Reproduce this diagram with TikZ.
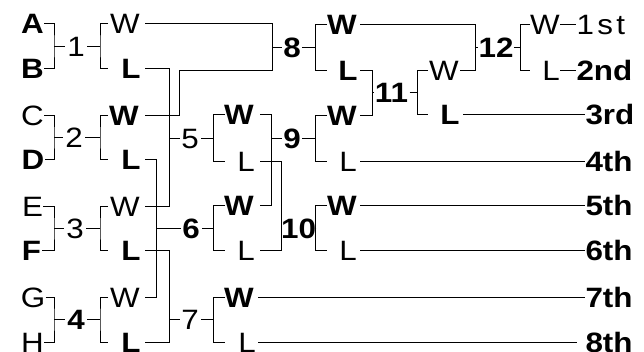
\documentclass[tikz,border=0pt]{standalone}
\usepackage{fontspec}
\setmainfont[FakeStretch=1.12]{Liberation Sans}
\begin{document}
\begin{tikzpicture}[x=1pt,y=-1pt,line width=1pt,
  lb/.style={inner sep=0pt,text height=20pt,text depth=0pt,font=\fontsize{28}{28}\selectfont},
  bl/.style={lb,font=\fontsize{28}{28}\selectfont\bfseries},
  wire/.style={line width=1pt}]
\useasboundingbox (0,0) rectangle (644,352);
\clip (0,0) rectangle (644,352);
% ---- entrants ----
\node[bl] (A) at (32.5,24) {A};
\node[bl] (B) at (32.5,69) {B};
\node[lb] (C) at (32.5,116) {C};
\node[bl] (D) at (33,160) {D};
\node[lb] (E) at (32.5,207) {E};
\node[bl] (F) at (31.5,251) {F};
\node[lb] (G) at (33,297) {G};
\node[lb] (H) at (32.5,342) {H};
% ---- round 1 matches ----
\node[lb] (m1) at (76,46.5) {1};
\node[lb] (m2) at (74,138) {2};
\node[lb] (m3) at (75,229) {3};
\node[bl] (m4) at (76,319.5) {4};
\foreach \a/\b/\m/\y in {A/B/m1/46.5,C/D/m2/138,E/F/m3/229,G/H/m4/319.5}{
  \coordinate (j\m) at (54,\y);
  \draw[wire] (\a.east) -| (j\m) |- (\b.east);
  \draw[wire] (j\m) -- ([xshift=-2pt]\m.west);
  \coordinate (k\m) at (100,\y);
  \draw[wire] ([xshift=2pt]\m.east) -- (k\m);
}
\draw[wire] (108,24) -| (km1) |- (108,69);
\draw[wire] (108,116) -| (km2) |- (108,160);
\draw[wire] (108,207) -| (km3) |- (108,251);
\draw[wire] (108,297) -| (km4) |- (108,342);
\node[lb] (W1) at (125,24) {W};
\node[bl] (L1) at (131,69) {L};
\node[bl] (W2) at (124,116) {W};
\node[bl] (L2) at (131,160) {L};
\node[lb] (W3) at (125,207) {W};
\node[bl] (L3) at (131,251) {L};
\node[lb] (W4) at (125,297) {W};
\node[bl] (L4) at (131,342) {L};
% ---- round 2 matches ----
\node[lb] (m5) at (190,139) {5};
\node[bl] (m6) at (191,229) {6};
\node[lb] (m7) at (190,319) {7};
\node[bl] (m8) at (292,48) {8};
% 8 : W1 vs W2
\draw[wire] (145,24) -- (272,24) -- (272,71) -- (179,71) -- (179,116) -- (145,116);
\draw[wire] (272,48) -- ([xshift=-1pt]m8.west);
% 5 : L1 vs W3
\draw[wire] (145,69) -- (169,69) -- (169,207) -- (145,207);
\draw[wire] (169,139) -- ([xshift=-1pt]m5.west);
% 6 : L2 vs W4
\draw[wire] (145,160) -- (156,160) -- (156,297) -- (145,297);
\draw[wire] (156,229) -- ([xshift=-1pt]m6.west);
% 7 : L3 vs L4
\draw[wire] (145,251) -- (169,251) -- (169,342) -- (145,342);
\draw[wire] (169,319) -- ([xshift=-1pt]m7.west);
% brackets of 5,6,7
\draw[wire] (225,115) -| (213,162) -- (225,162);
\draw[wire] (225,206) -| (213,251) -- (225,251);
\draw[wire] (225,297) -| (213,342) -- (225,342);
\draw[wire] (213,139) -- ([xshift=2pt]m5.east);
\draw[wire] (213,229) -- ([xshift=2pt]m6.east);
\draw[wire] (213,319) -- ([xshift=2pt]m7.east);
\node[bl] (W5) at (239,115) {W};
\node[lb] (L5) at (246,162) {L};
\node[bl] (W6) at (239,206) {W};
\node[lb] (L6) at (246,251) {L};
\node[bl] (W7) at (239,297) {W};
\node[lb] (L7) at (247,342) {L};
% ---- round 3 ----
\node[bl] (m9) at (292,139) {9};
\node[bl] (m10) at (298.5,229) {10};
% 9 : W5 vs W6
\draw[wire] (260,115) -- (271,115) -- (271,206) -- (260,206);
\draw[wire] (271,139) -- ([xshift=-1pt]m9.west);
% 10 : L5 vs L6
\draw[wire] (260,162) -- (281,162) -- (281,251) -- (260,251);
\draw[wire] (281,229) -- (m10.west);
% brackets of 8,9,10
\draw[wire] ([xshift=1pt]m8.east) -- (315,48);
\draw[wire] ([xshift=1pt]m9.east) -- (315,139);
\draw[wire] (m10.east) -- (315,229);
\draw[wire] (327,25) -| (315,71) -- (327,71);
\draw[wire] (327,116) -| (315,162) -- (327,162);
\draw[wire] (327,206) -| (315,251) -- (327,251);
\node[bl] (W8) at (342,25) {W};
\node[bl] (L8) at (348,71) {L};
\node[bl] (W9) at (342,116) {W};
\node[lb] (L9) at (348,162) {L};
\node[bl] (W10) at (342,206) {W};
\node[lb] (L10) at (348,251) {L};
% ---- 11 and 12 ----
\node[bl] (m11) at (391.5,93) {11};
\node[bl] (m12) at (496,48) {12};
% 11 : L8 vs W9
\draw[wire] (360,71) -- (372,71) -- (372,116) -- (360,116);
\draw[wire] (372,93) -- (m11.west);
\draw[wire] ([xshift=1pt]m11.east) -- (417,93);
\draw[wire] (428,71) -| (417,115) -- (428,115);
\node[lb] (W11) at (444,71) {W};
\node[bl] (L11) at (450,115) {L};
% 12 : W8 vs W11
\draw[wire] (360,25) -- (475,25) -- (475,71) -- (460,71);
\draw[wire] (475,48) -- (m12.west);
\draw[wire] (m12.east) -- (520,48);
\draw[wire] (530,25) -| (520,71) -- (530,71);
\node[lb] (W12) at (545,25) {W};
\node[lb] (L12) at (551,71) {L};
% ---- places ----
\node[lb,anchor=west,font=\fontsize{28}{28}\selectfont\addfontfeature{LetterSpace=12}] (p1) at (576,25) {1st};
\node[bl,anchor=west] (p2) at (576,71) {2nd};
\node[bl,anchor=west] (p3) at (585,115) {3rd};
\node[bl,anchor=west] (p4) at (585,162) {4th};
\node[bl,anchor=west] (p5) at (585,206) {5th};
\node[bl,anchor=west] (p6) at (585,251) {6th};
\node[bl,anchor=west] (p7) at (585,297) {7th};
\node[bl,anchor=west] (p8) at (585,342) {8th};
\draw[wire] (560,25) -- (p1.west);
\draw[wire] (560,71) -- (p2.west);
\draw[wire] (463,115) -- (p3.west);
\draw[wire] (360,162) -- (p4.west);
\draw[wire] (360,206) -- (p5.west);
\draw[wire] (360,251) -- (p6.west);
\draw[wire] (258,297) -- (p7.west);
\draw[wire] (258,342) -- ([xshift=-8pt]p8.west);
\end{tikzpicture}
\end{document}
